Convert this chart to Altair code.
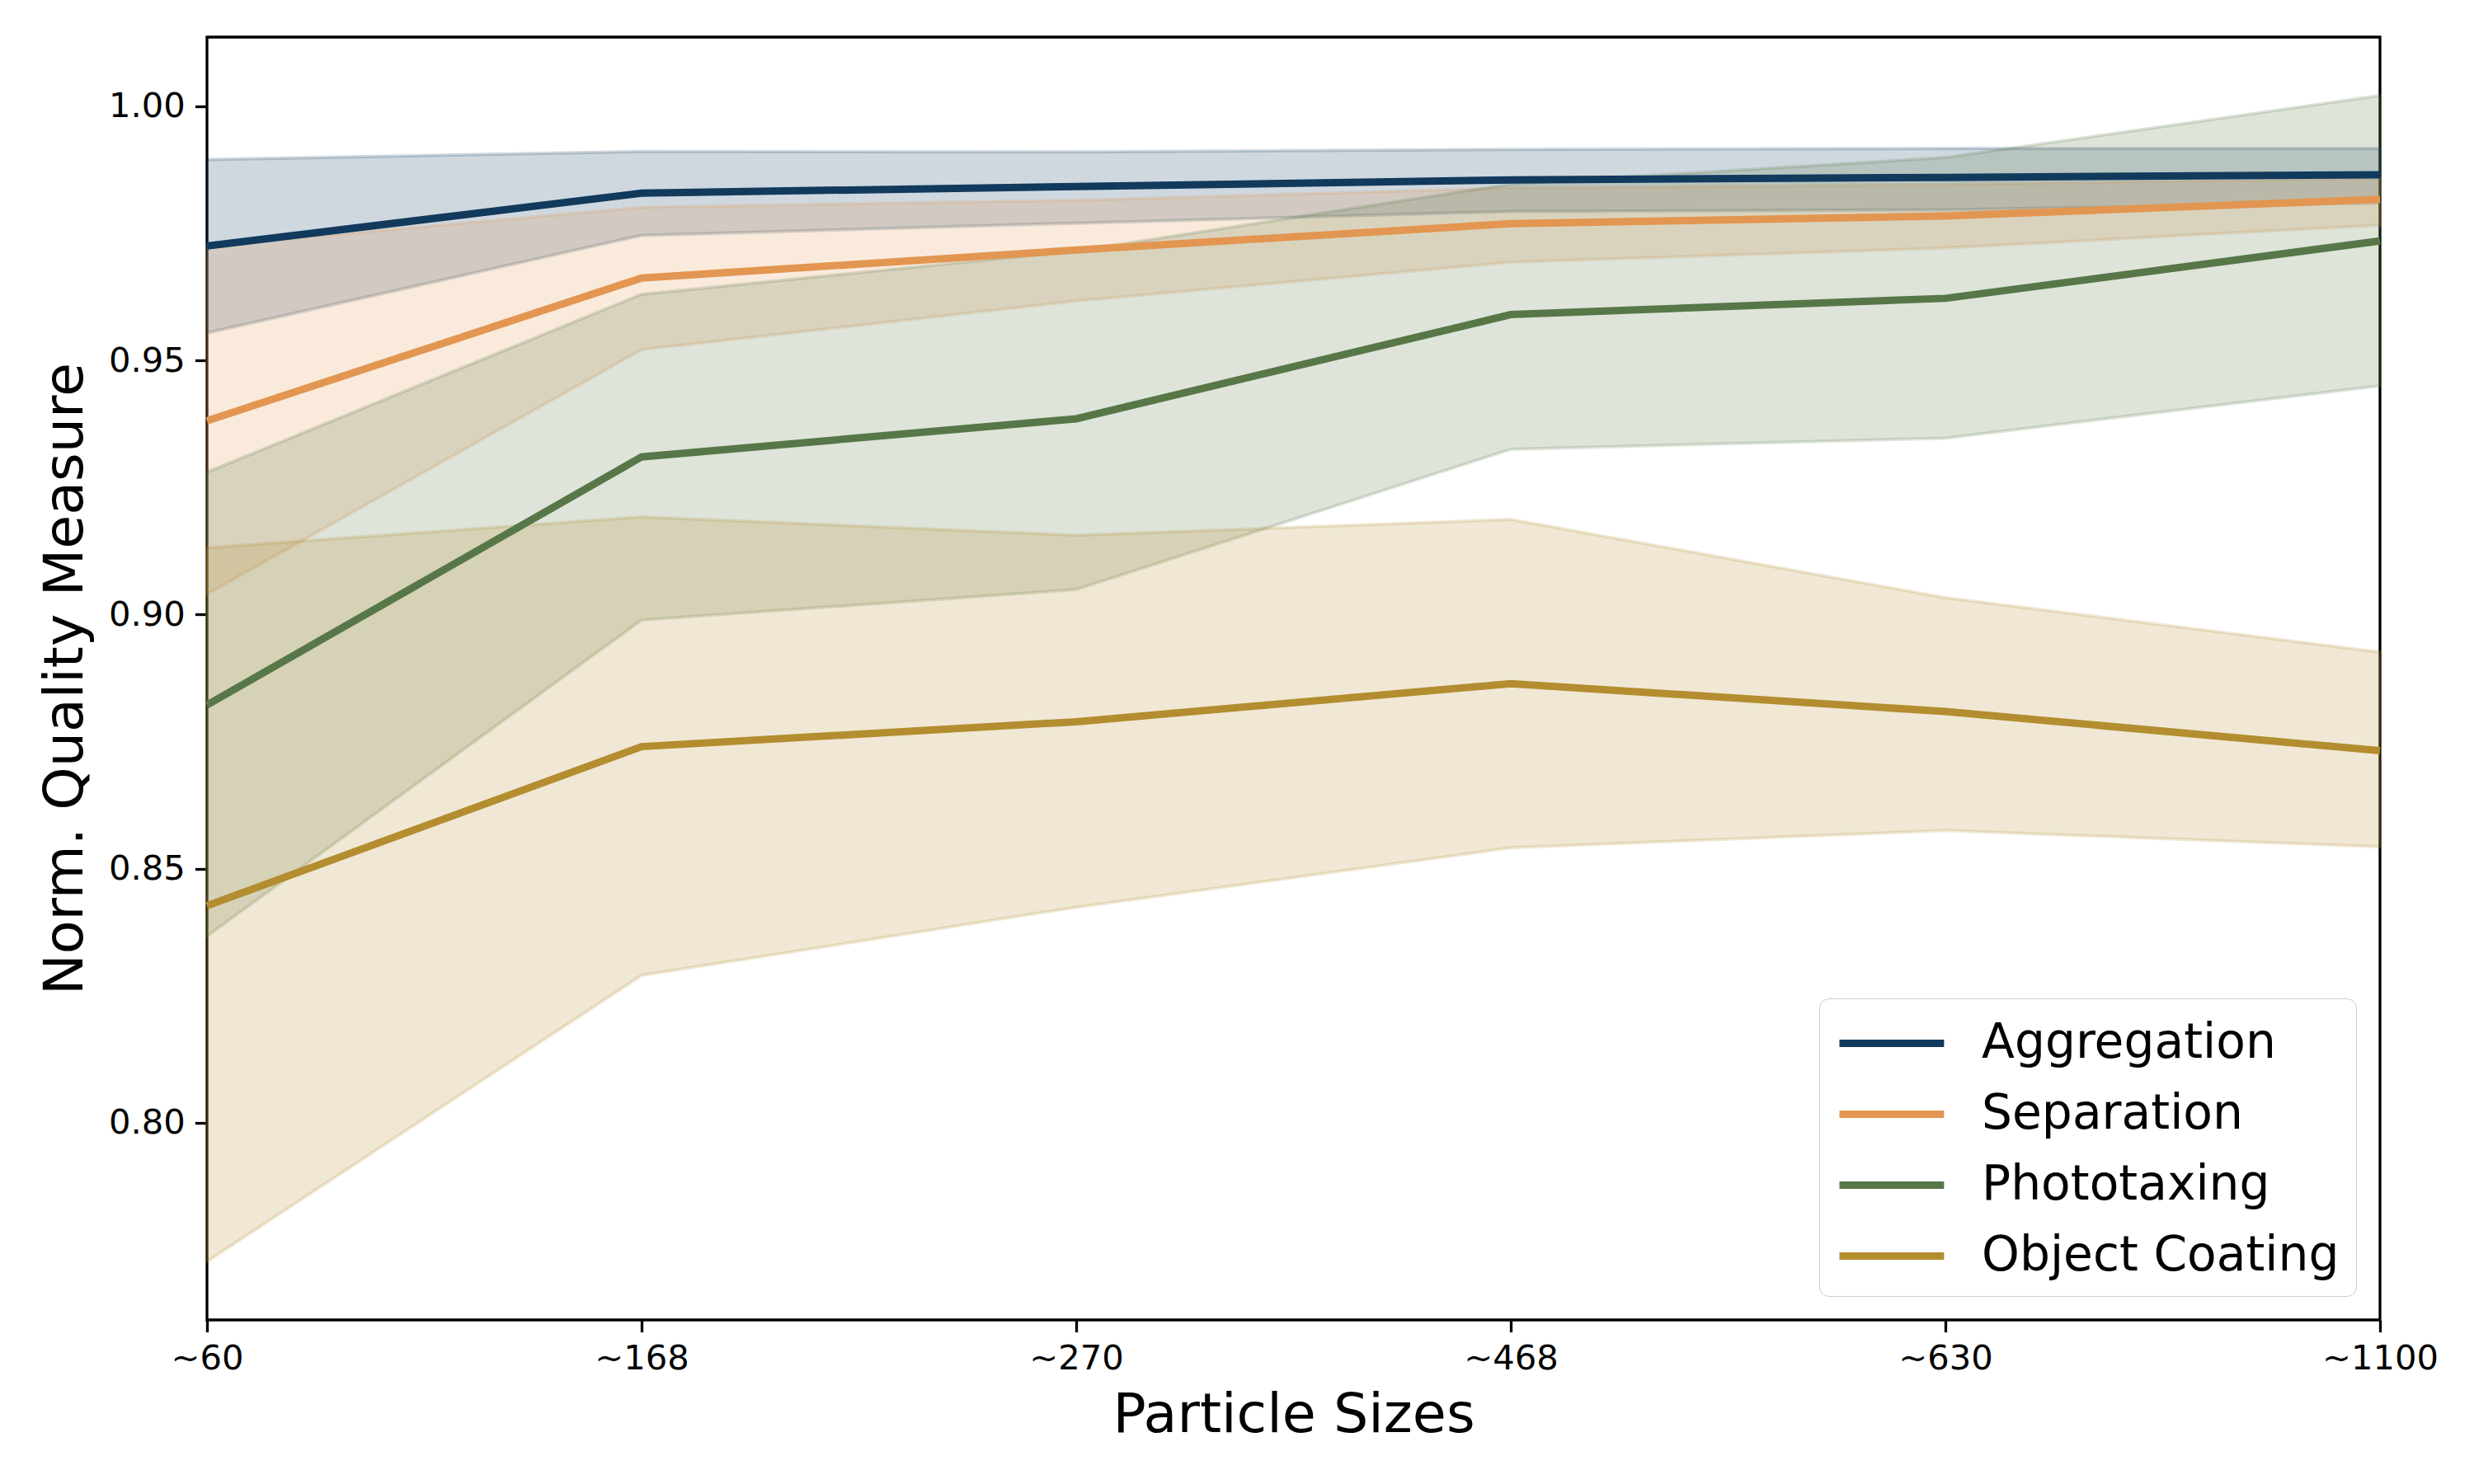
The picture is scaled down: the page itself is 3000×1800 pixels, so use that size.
import altair as alt
import pandas as pd

sizes = ["~60", "~168", "~270", "~468", "~630", "~1100"]
series = ["Aggregation", "Separation", "Phototaxing", "Object Coating"]
colors = ["#113a5d", "#e29651", "#587748", "#b38d2f"]

agg_mean = [0.9725, 0.9829, 0.9842, 0.9855, 0.9860, 0.9865]
agg_lo = [0.9554, 0.9746, 0.9770, 0.9793, 0.9796, 0.9810]
agg_hi = [0.9895, 0.9911, 0.9910, 0.9915, 0.9917, 0.9917]

sep_mean = [0.9381, 0.9662, 0.9717, 0.9769, 0.9784, 0.9817]
sep_lo = [0.9040, 0.9521, 0.9617, 0.9693, 0.9721, 0.9766]
sep_hi = [0.9725, 0.9801, 0.9815, 0.9839, 0.9846, 0.9858]

pho_mean = [0.8822, 0.9310, 0.9385, 0.9590, 0.9622, 0.9735]
pho_lo = [0.8367, 0.8989, 0.9049, 0.9325, 0.9347, 0.9450]
pho_hi = [0.9280, 0.9630, 0.9715, 0.9847, 0.9899, 1.0021]

coat_mean = [0.8427, 0.8740, 0.8789, 0.8864, 0.8809, 0.8732]
coat_lo = [0.7727, 0.8290, 0.8424, 0.8541, 0.8575, 0.8543]
coat_hi = [0.9131, 0.9192, 0.9156, 0.9187, 0.9033, 0.8926]

means = [agg_mean, sep_mean, pho_mean, coat_mean]
los = [agg_lo, sep_lo, pho_lo, coat_lo]
his = [agg_hi, sep_hi, pho_hi, coat_hi]

rows = []
for si, name in enumerate(series):
    for i, s in enumerate(sizes):
        rows.append({"series": name, "order": si, "size": s,
                     "mean": means[si][i], "lo": los[si][i], "hi": his[si][i]})
df = pd.DataFrame(rows)

FONT = "DejaVu Sans"
x_enc = alt.X("size:N", sort=sizes, scale=alt.Scale(type="point", padding=0),
              axis=alt.Axis(title="Particle Sizes", labelAngle=0))
y_scale = alt.Scale(domain=[0.7612, 1.0136], nice=False, zero=False)
y_axis = alt.Axis(title="Norm. Quality Measure", values=[0.80, 0.85, 0.90, 0.95, 1.00],
                  format=".2f", titlePadding=18)

base = alt.Chart(df)

bands = base.mark_area(fillOpacity=0.2, strokeOpacity=0.2, strokeWidth=4).encode(
    x=x_enc,
    y=alt.Y("lo:Q", scale=y_scale, axis=y_axis),
    y2="hi:Q",
    fill=alt.Fill("series:N", scale=alt.Scale(domain=series, range=colors), legend=None),
    stroke=alt.Stroke("series:N", scale=alt.Scale(domain=series, range=colors), legend=None),
    detail="series:N",
    order="order:Q",
)

lines = base.mark_line(strokeWidth=9).encode(
    x=x_enc,
    y=alt.Y("mean:Q", scale=y_scale, axis=y_axis),
    color=alt.Color("series:N", scale=alt.Scale(domain=series, range=colors),
                    legend=alt.Legend(title=None, orient="bottom-right", offset=29,
                                      symbolType="M-1,0L3.23,0", symbolStrokeWidth=9,
                                      symbolSize=3600, labelFontSize=58.3, labelFont=FONT,
                                      labelColor="black", labelOffset=108, padding=20,
                                      strokeColor="#cccccc", fillColor="rgba(255,255,255,0.8)",
                                      cornerRadius=12, rowPadding=23, labelLimit=1000)),
)

chart = alt.layer(bands, lines).resolve_scale(
    fill="independent", stroke="independent"
).properties(
    width=2635, height=1556,
    padding={"left": 38, "top": 37, "right": 10, "bottom": 10},
).configure(
    font=FONT
).configure_view(
    stroke="black", strokeWidth=3.3
).configure_axis(
    labelFont=FONT, titleFont=FONT, labelFontSize=41.7, titleFontSize=66.7,
    titleFontWeight="normal", labelColor="black", titleColor="black",
    domain=False, grid=False, tickColor="black", tickWidth=3.3, tickSize=14.6,
    labelPadding=12, titlePadding=14,
)

chart.save("out.html", embed_options={"renderer": "svg", "actions": False})
